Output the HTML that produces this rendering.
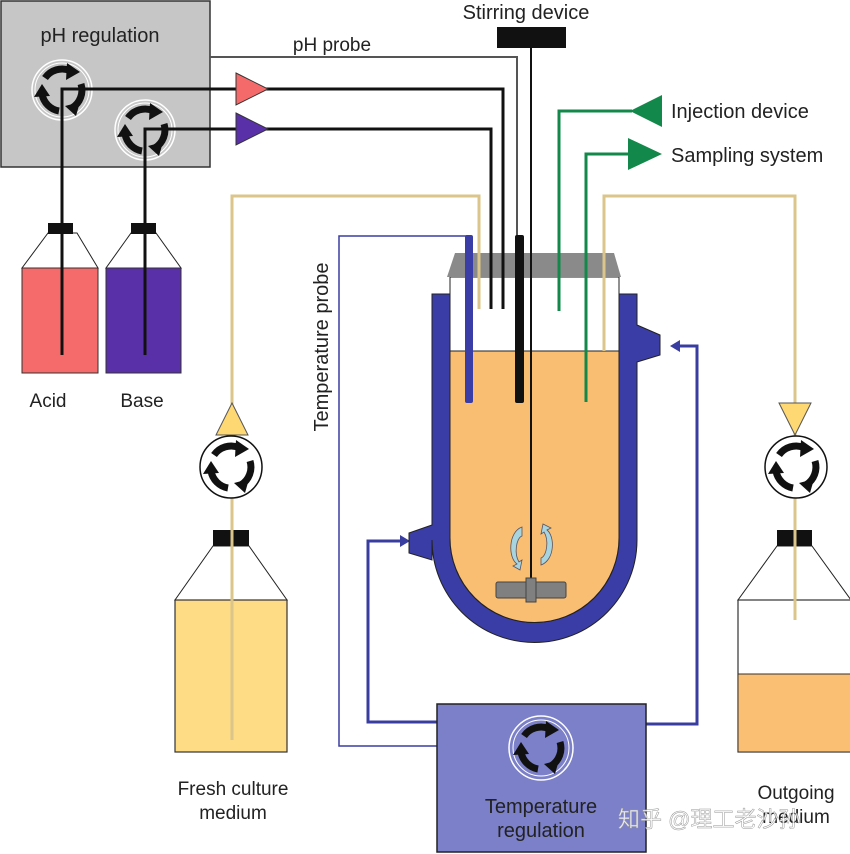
<!DOCTYPE html>
<html><head><meta charset="utf-8"><style>
html,body{margin:0;padding:0;background:#fff;}
svg{display:block;font-family:"Liberation Sans","Noto Sans CJK SC",sans-serif;}
</style></head><body>
<svg width="850" height="854" viewBox="0 0 850 854" xmlns="http://www.w3.org/2000/svg">
<defs>
  <g id="arrows">
    <path d="M-17,-12 A21,21 0 0 1 8,-19.5" fill="none" stroke="#111" stroke-width="7"/>
    <polygon points="5,-27 18,-18 4,-10" fill="#111"/>
    <path d="M19,-6 A21,21 0 0 1 10,18" fill="none" stroke="#111" stroke-width="7"/>
    <polygon points="18,12 14,26 3,16" fill="#111"/>
    <path d="M-3,21 A21,21 0 0 1 -20,4" fill="none" stroke="#111" stroke-width="7"/>
    <polygon points="-28,7 -20,-6 -12,6" fill="#111"/>
  </g>
</defs>

<rect x="1" y="1" width="209" height="166" fill="#c6c6c6" stroke="#333" stroke-width="1.5"/>
<text x="100" y="42" font-size="20" text-anchor="middle" fill="#222">pH regulation</text>
<circle cx="62" cy="90" r="30" fill="none" stroke="#fff" stroke-width="1.5"/>
<circle cx="62" cy="90" r="27" fill="none" stroke="#fff" stroke-width="1"/>
<use href="#arrows" x="62" y="90"/>
<circle cx="145" cy="130" r="30" fill="none" stroke="#fff" stroke-width="1.5"/>
<circle cx="145" cy="130" r="27" fill="none" stroke="#fff" stroke-width="1"/>
<use href="#arrows" x="145" y="130"/>

<polyline points="210,57 517,57 517,240" fill="none" stroke="#555" stroke-width="2"/>
<text x="332" y="51" font-size="19" text-anchor="middle" fill="#222">pH probe</text>

<polyline points="62,355 62,89 503,89 503,309" fill="none" stroke="#111" stroke-width="3"/>
<polyline points="145,355 145,129 491,129 491,309" fill="none" stroke="#111" stroke-width="3"/>
<polygon points="236,73 268,89 236,105" fill="#f46a6a" stroke="#333" stroke-width="1"/>
<polygon points="236,113 268,129 236,145" fill="#5a30a8" stroke="#333" stroke-width="1"/>

<polygon points="48,233 77,233 98,268 22,268" fill="#fff" stroke="#222" stroke-width="1"/>
<rect x="22" y="268" width="76" height="105" fill="#f56a6a" stroke="#333" stroke-width="1"/>
<rect x="48" y="223" width="25" height="11" fill="#111"/>
<line x1="62" y1="223" x2="62" y2="355" stroke="#111" stroke-width="3"/>
<text x="48" y="407" font-size="19" text-anchor="middle" fill="#222">Acid</text>
<polygon points="131,233 156,233 181,268 106,268" fill="#fff" stroke="#222" stroke-width="1"/>
<rect x="106" y="268" width="75" height="105" fill="#5a30a8" stroke="#333" stroke-width="1"/>
<rect x="131" y="223" width="25" height="11" fill="#111"/>
<line x1="145" y1="223" x2="145" y2="355" stroke="#111" stroke-width="3"/>
<text x="142" y="407" font-size="19" text-anchor="middle" fill="#222">Base</text>

<text x="526" y="19" font-size="20" text-anchor="middle" fill="#222">Stirring device</text>
<rect x="497" y="27" width="69" height="21" fill="#111"/>

<polyline points="559,311 559,111 632,111" fill="none" stroke="#12884a" stroke-width="3"/>
<polygon points="630,111 662,95 662,127" fill="#12884a"/>
<text x="671" y="118" font-size="20" fill="#222">Injection device</text>
<polyline points="586,402 586,154 630,154" fill="none" stroke="#12884a" stroke-width="3"/>
<polygon points="628,138 662,154 628,170" fill="#12884a"/>
<text x="671" y="162" font-size="20" fill="#222">Sampling system</text>

<polyline points="232,740 232,196 479,196 479,309" fill="none" stroke="#dcc58a" stroke-width="3"/>
<polyline points="604,351 604,196 795,196 795,620" fill="none" stroke="#dcc58a" stroke-width="3"/>
<polygon points="232,403 248,435 216,435" fill="#fdd873" stroke="#555" stroke-width="1"/>
<polygon points="779,403 811,403 795,435" fill="#fdd873" stroke="#555" stroke-width="1"/>

<circle cx="231" cy="467" r="31" fill="#fff" stroke="#111" stroke-width="1.5"/>
<use href="#arrows" x="231" y="467"/>
<circle cx="796" cy="467" r="31" fill="#fff" stroke="#111" stroke-width="1.5"/>
<use href="#arrows" x="796" y="467"/>

<polygon points="213,546 249,546 287,600 175,600" fill="#fff" stroke="#222" stroke-width="1"/>
<rect x="175" y="600" width="112" height="152" fill="#fddc85" stroke="#333" stroke-width="1.2"/>
<rect x="213" y="530" width="36" height="16" fill="#111"/>
<line x1="232" y1="530" x2="232" y2="740" stroke="#dcc58a" stroke-width="3"/>
<text x="233" y="795" font-size="19" text-anchor="middle" fill="#222">Fresh culture</text>
<text x="233" y="819" font-size="19" text-anchor="middle" fill="#222">medium</text>

<polygon points="777,546 812,546 851,600 738,600" fill="#fff" stroke="#222" stroke-width="1"/>
<rect x="738" y="600" width="114" height="152" fill="#fff" stroke="#333" stroke-width="1.2"/>
<rect x="738" y="674" width="114" height="78" fill="#fabf72" stroke="#333" stroke-width="1"/>
<rect x="777" y="530" width="35" height="16" fill="#111"/>
<line x1="795" y1="530" x2="795" y2="620" stroke="#dcc58a" stroke-width="3"/>
<text x="796" y="799" font-size="19" text-anchor="middle" fill="#222">Outgoing</text>
<text x="796" y="823" font-size="19" text-anchor="middle" fill="#222">medium</text>

<polyline points="469,236 339,236 339,746 437,746" fill="none" stroke="#3a3da0" stroke-width="1.5"/>
<text transform="translate(328,347) rotate(-90)" font-size="20" text-anchor="middle" fill="#222">Temperature probe</text>

<polyline points="437,722 368,722 368,541 402,541" fill="none" stroke="#3a3da0" stroke-width="3"/>
<polygon points="410,541 400,535 400,547" fill="#3a3da0"/>
<polyline points="646,724 697,724 697,346 678,346" fill="none" stroke="#3a3da0" stroke-width="3"/>
<polygon points="670,346 680,340 680,352" fill="#3a3da0"/>

<path d="M432,294 L450,294 L450,538 A84.5,84.5 0 0 0 619,538 L619,294 L637,294 L637,325 L660,335 L660,355 L637,362 L637,540 A102.5,102.5 0 0 1 432,540 L432,560 L409,553 L409,533 L432,525 Z" fill="#3b3da6" stroke="#222" stroke-width="1"/>
<path d="M450,277 L619,277 L619,538 A84.5,84.5 0 0 1 450,538 Z" fill="#fff" stroke="#222" stroke-width="1"/>
<path d="M450,351 L619,351 L619,538 A84.5,84.5 0 0 1 450,538 Z" fill="#f9be72" stroke="#222" stroke-width="1"/>
<polygon points="455,253 614,253 621,277 447,277" fill="#8a8a8a"/>
<line x1="479" y1="253" x2="479" y2="309" stroke="#dcc58a" stroke-width="3"/>
<line x1="491" y1="253" x2="491" y2="309" stroke="#111" stroke-width="3"/>
<line x1="503" y1="253" x2="503" y2="309" stroke="#111" stroke-width="3"/>
<line x1="559" y1="253" x2="559" y2="311" stroke="#12884a" stroke-width="3"/>
<line x1="586" y1="253" x2="586" y2="402" stroke="#12884a" stroke-width="3"/>
<line x1="604" y1="253" x2="604" y2="351" stroke="#dcc58a" stroke-width="3"/>
<rect x="465" y="235" width="8" height="168" rx="2" fill="#3b3da6"/>
<rect x="515" y="235" width="9" height="168" rx="2" fill="#111"/>
<line x1="531" y1="48" x2="531" y2="598" stroke="#111" stroke-width="2"/>
<rect x="496" y="582" width="70" height="16" rx="2" fill="#808080" stroke="#444" stroke-width="1"/>
<rect x="526" y="578" width="10" height="24" fill="#808080" stroke="#444" stroke-width="1"/>
<path d="M522,527 C508,532 508,558 517,564 L513,566 L520,570 L522,560 L519,562 C514,554 516,538 522,536 Z" fill="#a8d4e0" stroke="#556" stroke-width="0.8"/>
<path d="M541,565 C555,560 555,536 547,530 L551,528 L543,524 L541,534 L544,532 C549,540 547,556 541,558 Z" fill="#a8d4e0" stroke="#556" stroke-width="0.8"/>

<rect x="437" y="704" width="209" height="148" fill="#7b80c8" stroke="#222" stroke-width="1.5"/>
<circle cx="541" cy="748" r="32" fill="none" stroke="#fff" stroke-width="1.5"/>
<circle cx="541" cy="748" r="28" fill="none" stroke="#fff" stroke-width="1"/>
<use href="#arrows" x="541" y="748"/>
<text x="541" y="813" font-size="20" text-anchor="middle" fill="#222">Temperature</text>
<text x="541" y="837" font-size="20" text-anchor="middle" fill="#222">regulation</text>

<text x="618" y="827" font-size="22" fill="#fff" fill-opacity="0.85" stroke="#999" stroke-width="0.5">知乎 @理工老沙孙</text>
</svg>
</body></html>
